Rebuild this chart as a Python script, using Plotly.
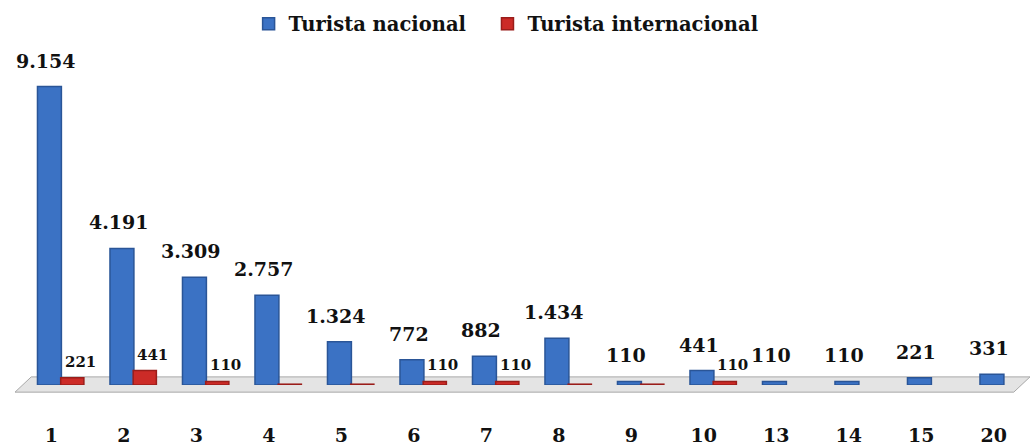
import plotly.graph_objects as go

categories = ["1", "2", "3", "4", "5", "6", "7", "8", "9", "10", "13", "14", "15", "20"]
nacional = [9154, 4191, 3309, 2757, 1324, 772, 882, 1434, 110, 441, 110, 110, 221, 331]
internacional = [221, 441, 110, 0, 0, 110, 110, 0, 0, 110, None, None, None, None]
series_names = ["Turista nacional", "Turista internacional"]

FONT = "DejaVu Serif"
BLUE_LABEL = dict(family=FONT, size=19, color="#111111", weight="bold")
RED_LABEL = dict(family=FONT, size=15, color="#111111", weight="bold")

def fmt(v):
    if v is None or v == 0:
        return ""
    return f"{v:,}".replace(",", ".")

fig = go.Figure()
fig.add_trace(go.Bar(
    x=categories, y=nacional, name=series_names[0] + "\u2002\u00a0",
    offset=-0.19, width=0.33,
    marker=dict(color="#3b72c4", line=dict(color="#2a5597", width=1.5)),
    cliponaxis=False,
))
fig.add_trace(go.Bar(
    x=categories, y=[(v if v else 25) if v is not None else None for v in internacional],
    name=series_names[1],
    offset=0.13, width=0.32,
    marker=dict(color="#cc2b27", line=dict(color="#9a1d1a", width=1.5)),
    cliponaxis=False,
))

annotations = []
for i, v in enumerate(nacional):
    annotations.append(dict(x=i, y=v, xref="x", yref="y", text=fmt(v), showarrow=False,
                            xanchor="center", yanchor="bottom", yshift=13, xshift=-5,
                            font=BLUE_LABEL))
for i, v in enumerate(internacional):
    if v:
        annotations.append(dict(x=i, y=v, xref="x", yref="y", text=fmt(v), showarrow=False,
                                xanchor="center", yanchor="bottom", yshift=5, xshift=29,
                                font=RED_LABEL))

fig.update_layout(
    width=1035, height=445,
    barmode="overlay",
    paper_bgcolor="white", plot_bgcolor="white",
    margin=dict(l=15, r=5, t=60, b=60, autoexpand=False),
    font=dict(family=FONT, color="#111111"),
    legend=dict(orientation="h", xref="container", x=0.489, xanchor="center",
                y=0.99, yanchor="top", yref="container",
                font=dict(family=FONT, size=19.5, color="#111111", weight="bold"),
                itemwidth=30, traceorder="normal"),
    xaxis=dict(type="category", range=[-0.5, len(categories) - 0.5],
               showgrid=False, zeroline=False, showline=False, automargin=False,
               tickfont=dict(family=FONT, size=19, color="#111111", weight="bold"),
               ticklabelstandoff=37),
    yaxis=dict(range=[0, 9970], visible=False, showgrid=False, zeroline=False, automargin=False),
    annotations=annotations,
    shapes=[dict(type="path", xref="paper", yref="paper",
                 path="M 0,-0.022 L 0.016,0.025 L 1.0,0.025 L 0.984,-0.022 Z",
                 fillcolor="#e4e4e4", line=dict(color="#a8a8a8", width=1), layer="below")],
)

fig.write_html("out.html", config={"displayModeBar": False},
               post_script="document.body.style.margin='0';")
